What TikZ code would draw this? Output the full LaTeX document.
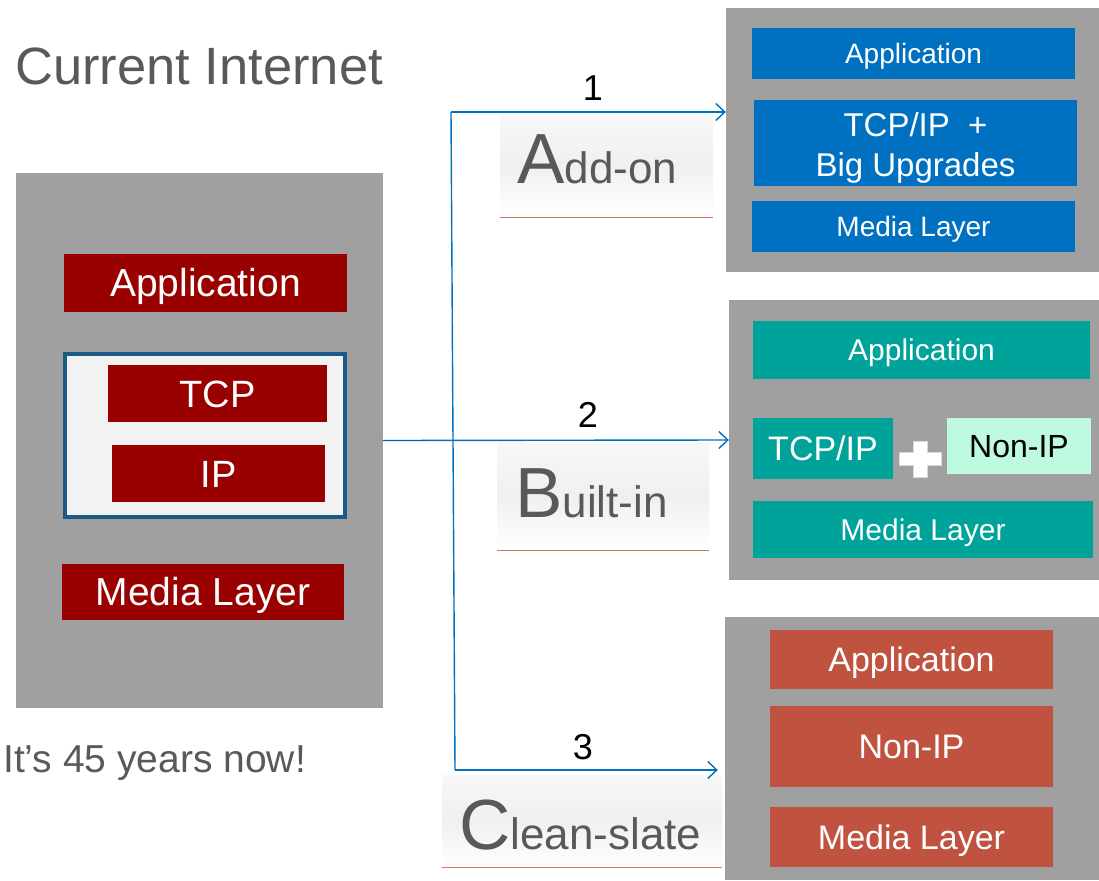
\documentclass[tikz,border=0pt]{standalone}
\usepackage{fontspec}
\setmainfont{Liberation Sans}
\usetikzlibrary{arrows.meta}
\definecolor{panel}{HTML}{A0A0A0}
\definecolor{oldred}{HTML}{990000}
\definecolor{upblue}{HTML}{0070C0}
\definecolor{teal2}{HTML}{00A39A}
\definecolor{mint}{HTML}{BDFADF}
\definecolor{rust}{HTML}{C0533F}
\definecolor{frameblue}{HTML}{1B5A86}
\definecolor{inner}{HTML}{F2F2F2}
\definecolor{titlegray}{HTML}{595959}
\definecolor{linkblue}{HTML}{0070C0}
\definecolor{linkdark}{HTML}{0060A8}
\definecolor{rule}{HTML}{D9706A}
\newcommand{\fs}[1]{\fontsize{#1}{#1}\selectfont}
\tikzset{
  panelbox/.style={fill=panel, inner sep=0pt},
  layer/.style={inner sep=0pt, text=white, align=center},
  % text set at #1 pt, box height equal to its cap height so capitals sit centred
  capmid/.style={font=\fs{#1}, text height={0.716*#1}, text depth=0pt},
  labelbox/.style={inner sep=0pt, top color=white!97!black, bottom color=white, middle color=white!94!black, shading angle=0},
  link/.style={draw=linkblue, line width=1.4pt},
  linkarrow/.style={link, -{Straight Barb[length=9pt,width=17pt,line width=1.4pt]}},
  num/.style={font=\fs{36}, text=black, inner sep=0pt},
}
\begin{document}
\begin{tikzpicture}[x=1pt,y=-1pt]
\useasboundingbox (0,0) rectangle (1099,880);

% title and caption
\node[anchor=base west, inner sep=0pt, text=titlegray, font=\fs{52.5}] (title) at (15,85) {Current Internet};
\node[anchor=base west, inner sep=0pt, text=titlegray, font=\fs{39}] (age) at (3,772) {It’s 45 years now!};

% current stack
\node[panelbox, minimum width=367pt, minimum height=535pt] (cur) at (199.5,440.5) {};
\node[layer, capmid=39, fill=oldred, minimum width=283pt, minimum height=58pt] (capp) at (205.5,283) {Application};
\node[inner sep=0pt, fill=inner, draw=frameblue, line width=4pt, minimum width=280pt, minimum height=163pt] (mid) at (205,435.5) {};
\node[layer, capmid=38, fill=oldred, minimum width=219pt, minimum height=57pt] (ctcp) at (217.5,393.5) {TCP};
\node[layer, capmid=38, fill=oldred, minimum width=213pt, minimum height=57pt] (cip) at (218.5,473.5) {IP};
\node[layer, capmid=39, fill=oldred, minimum width=282pt, minimum height=56pt] (cmed) at (203,592) {Media Layer};

% option 1: add-on
\node[panelbox, minimum width=373pt, minimum height=264pt] (p1) at (912.5,140) {};
\node[layer, capmid=28, fill=upblue, minimum width=323pt, minimum height=51pt] (a1) at (913.5,53.5) {Application};
\node[layer, fill=upblue, minimum width=323pt, minimum height=86pt] (t1) at (915.5,143) {};
\node[layer, font={\fontsize{33}{40}\selectfont}] (t1txt) at (915.5,148) {TCP/IP \ +\\Big Upgrades};
\node[layer, capmid=28, fill=upblue, minimum width=323pt, minimum height=51pt] (m1) at (913.5,226.5) {Media Layer};

% option 2: built-in
\node[panelbox, minimum width=370pt, minimum height=280pt] (p2) at (914,440) {};
\node[layer, capmid=30, fill=teal2, minimum width=337pt, minimum height=58pt] (a2) at (921.5,350) {Application};
\node[layer, capmid=34, fill=teal2, minimum width=140pt, minimum height=61pt] (t2) at (823,448) {TCP/IP};
\node[layer, capmid=32, fill=mint, text=black, minimum width=144pt, minimum height=56pt] (n2) at (1019,446) {Non-IP};
\node[layer, capmid=30, fill=teal2, minimum width=340pt, minimum height=57pt] (m2) at (923,529.5) {Media Layer};
\fill[white, draw=white!85!black, line width=0.5pt]
  (913,441) -- (927,441) -- (927,452) -- (941,452) -- (941,465) -- (927,465)
  -- (927,477) -- (913,477) -- (913,465) -- (899,465) -- (899,452) -- (913,452) -- cycle;

% option 3: clean-slate
\node[panelbox, minimum width=374pt, minimum height=263pt] (p3) at (912,748.5) {};
\node[layer, capmid=34, fill=rust, minimum width=283pt, minimum height=59pt] (a3) at (911.5,659) {Application};
\node[layer, capmid=34, fill=rust, minimum width=283pt, minimum height=81pt] (n3) at (911.5,746.5) {Non-IP};
\node[layer, capmid=34, fill=rust, minimum width=283pt, minimum height=60pt] (m3) at (911.5,837) {Media Layer};

% path labels
\node[labelbox, minimum width=213pt, minimum height=102pt] (l1) at (606.5,166) {};
\draw[rule, line width=1pt] (l1.south west) -- (l1.south east);
\node[anchor=base west, inner sep=0pt, text=titlegray] (l1t) at (517,183) {\fs{71}A\fs{44}dd-on};
\node[labelbox, minimum width=212pt, minimum height=107pt] (l2) at (603,496.5) {};
\draw[rule, line width=1pt] (l2.south west) -- (l2.south east);
\node[anchor=base west, inner sep=0pt, text=titlegray] (l2t) at (515,517) {\fs{71}B\fs{44}uilt-in};
\node[labelbox, minimum width=280pt, minimum height=92pt] (l3) at (582,821) {};
\draw[rule, line width=1pt] (l3.south west) -- (l3.south east);
\node[anchor=base west, inner sep=0pt, text=titlegray] (l3t) at (459,849) {\fs{71}C\fs{44}lean-slate};

% connectors
\coordinate (vtop) at (451,112);
\coordinate (vbot) at (455,770);
\draw[link] (vtop) -- (vbot);
\draw[linkarrow] (vtop) -- (vtop -| p1.west);
\draw[linkarrow] (cur.east) -- (p2.west);
\draw[draw=linkdark, line width=1.8pt] (cur.east) -- ++(44,0);
\draw[linkarrow] (vbot) -- ([xshift=-7pt]vbot -| p3.west);

\node[num] (n1) at (593,88) {1};
\node[num] (n2l) at (588,415) {2};
\node[num] (n3l) at (583,747) {3};
\end{tikzpicture}
\end{document}
